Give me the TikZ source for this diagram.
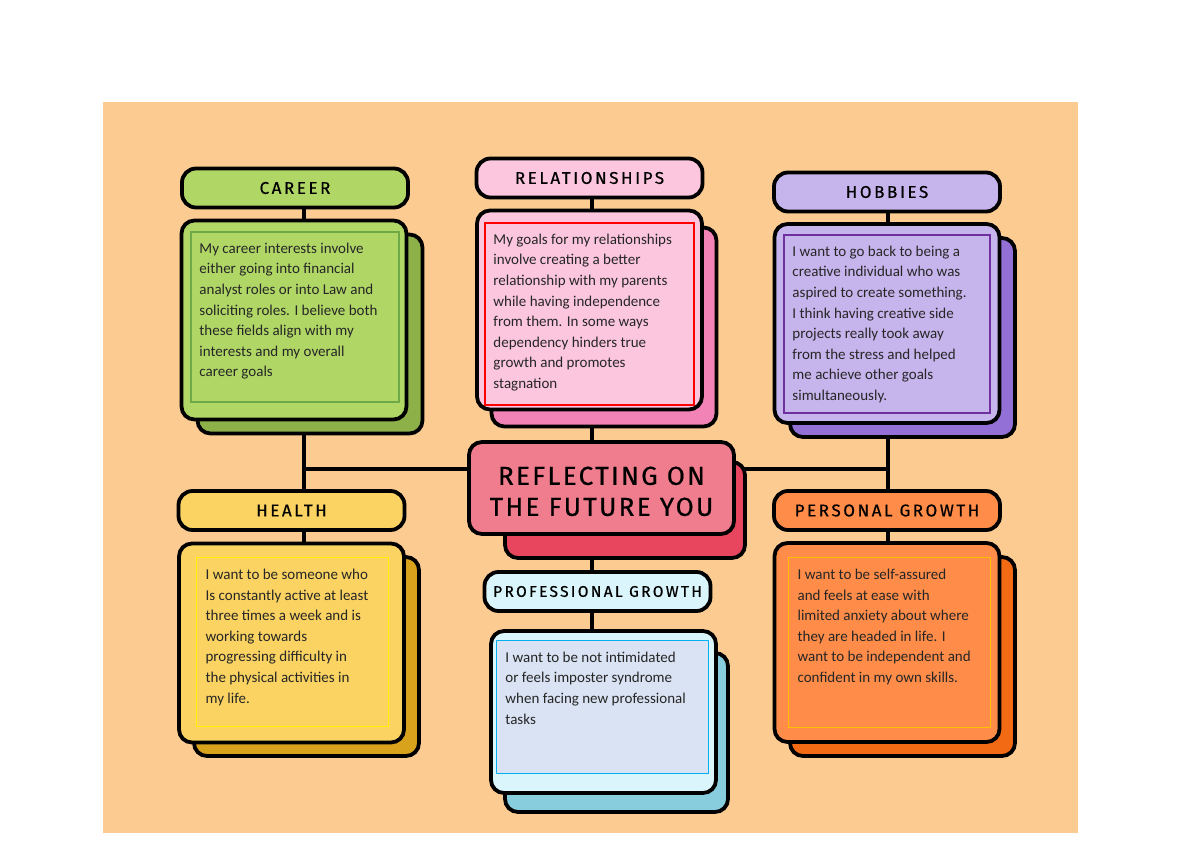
\documentclass[tikz,border=0pt]{standalone}
\usepackage{fontspec}
\setmainfont{Carlito}
\newfontfamily\headfont[LetterSpace=15,FakeBold=0.6]{Fira Sans}
\newfontfamily\titlefont[LetterSpace=9,FakeBold=0.6]{Fira Sans}
\usetikzlibrary{positioning,calc,backgrounds}
\definecolor{rfpeach}{HTML}{FBCB92}
\definecolor{carfront}{HTML}{B0D766}
\definecolor{carshade}{HTML}{8DB048}
\definecolor{carline}{HTML}{6FA847}
\definecolor{relfront}{HTML}{FBC6DE}
\definecolor{relshade}{HTML}{F283B7}
\definecolor{hobfront}{HTML}{C6B4EC}
\definecolor{hobshade}{HTML}{9370D6}
\definecolor{hobline}{HTML}{7030A0}
\definecolor{hltfront}{HTML}{FAD362}
\definecolor{hltshade}{HTML}{D9A21D}
\definecolor{profront}{HTML}{DAF5FC}
\definecolor{proinner}{HTML}{DAE3F3}
\definecolor{proline}{HTML}{00B0F0}
\definecolor{proshade}{HTML}{87CDDD}
\definecolor{pgrfront}{HTML}{FF8C48}
\definecolor{pgrshade}{HTML}{F26A14}
\definecolor{pgrline}{HTML}{FFC000}
\definecolor{cenfront}{HTML}{EF7D8D}
\definecolor{censhade}{HTML}{E7465E}

\begin{document}
\begin{tikzpicture}[x=1pt,y=-1pt,
  link/.style={line width=3.8pt,black},
  head/.style={draw=black,line width=3.8pt,rounded corners=14pt,minimum width=226pt,minimum height=39pt,inner sep=0pt,font=\headfont\fontsize{17}{17}\selectfont},
  card/.style={draw=black,line width=3.8pt,rounded corners=13pt,minimum width=225pt,minimum height=199pt,inner sep=0pt},
  inbox/.style={line width=2.5pt,inner sep=0pt},
  body/.style={below right=12pt and 9.5pt of #1,align=left,inner sep=0pt,font=\fontsize{15}{20.6}\selectfont,text=black!85}]
  \useasboundingbox (0,0) rectangle (1200,849);
  \begin{scope}[on background layer]
    \fill[rfpeach] (103,102) rectangle (1078,833);
  \end{scope}
  % top left: career
  \node[head,fill=carfront] (carH) at (295,188) {CAREER};
  \node[card,fill=carshade] (carS) at (310,334) {};
  \node[card,fill=carfront] (carB) at (294,320) {};
  \node[inbox,draw=carline,minimum width=208pt,minimum height=170pt] (carIn) at (295,317) {};
  \node[body=carIn.north west] (carT) {My career interests involve\\either going into financial\\analyst roles or into Law and\\soliciting roles. I believe both\\these fields align with my\\interests and my overall\\career goals};
  % top middle: relationships
  \node[head,fill=relfront] (relH) at (589.5,178) {RELATIONSHIPS};
  \node[card,fill=relshade] (relS) at (604,327) {};
  \node[card,fill=relfront] (relB) at (589.5,310) {};
  \node[inbox,draw=red,minimum width=209pt,minimum height=182pt] (relIn) at (589.5,314) {};
  \node[body=relIn.north west] (relT) {My goals for my relationships\\involve creating a better\\relationship with my parents\\while having independence\\from them. In some ways\\dependency hinders true\\growth and promotes\\stagnation};
  % top right: hobbies
  \node[head,fill=hobfront] (hobH) at (887,192) {HOBBIES};
  \node[card,fill=hobshade] (hobS) at (902.5,337.5) {};
  \node[card,fill=hobfront] (hobB) at (887,323.5) {};
  \node[inbox,draw=hobline,minimum width=206pt,minimum height=178pt] (hobIn) at (887,324) {};
  \node[body=hobIn.north west] (hobT) {I want to go back to being a\\creative individual who was\\aspired to create something.\\I think having creative side\\projects really took away\\from the stress and helped\\me achieve other goals\\simultaneously.};
  % bottom left: health
  \node[head,fill=hltfront] (hltH) at (291.5,510.5) {HEALTH};
  \node[card,fill=hltshade] (hltS) at (306.5,656.5) {};
  \node[card,fill=hltfront] (hltB) at (291.5,643) {};
  \node[inbox,draw=yellow,line width=1.2pt,minimum width=192pt,minimum height=169pt] (hltIn) at (292.5,642) {};
  \node[body=hltIn.north west] (hltT) {I want to be someone who\\Is constantly active at least\\three times a week and is\\working towards\\progressing difficulty in\\the physical activities in\\my life.};
  % bottom right: personal growth
  \node[head,fill=pgrfront] (pgrH) at (887,510.5) {PERSONAL GROWTH};
  \node[card,fill=pgrshade] (pgrS) at (902.5,656.5) {};
  \node[card,fill=pgrfront] (pgrB) at (887,642.5) {};
  \node[inbox,draw=pgrline,line width=1.2pt,minimum width=202pt,minimum height=170pt] (pgrIn) at (889.5,642.5) {};
  \node[body=pgrIn.north west] (pgrT) {I want to be self-assured\\and feels at ease with\\limited anxiety about where\\they are headed in life. I\\want to be independent and\\confident in my own skills.};
  % bottom middle: professional growth
  \node[head,fill=profront,font=\headfont\fontsize{15.5}{15.5}\selectfont] (proH) at (597.5,591.5) {PROFESSIONAL GROWTH};
  \node[card,fill=proshade,minimum width=223pt,minimum height=159pt] (proS) at (616.5,732.5) {};
  \node[card,fill=profront,minimum height=162pt] (proB) at (603.5,712) {};
  \node[inbox,draw=proline,fill=proinner,line width=1.5pt,minimum width=212pt,minimum height=133pt] (proIn) at (602.5,707) {};
  \node[body=proIn.north west] (proT) {I want to be not intimidated\\or feels imposter syndrome\\when facing new professional\\tasks};
  % centre
  \node[card,fill=censhade,minimum width=240pt,minimum height=96pt] (cenS) at (625,510) {};
  \node[card,fill=cenfront,minimum width=265pt,minimum height=92pt,align=center,
        font=\titlefont\fontsize{26}{31}\selectfont] (cen) at (601.5,488) {\rule{0pt}{25pt}REFLECTING ON\\THE FUTURE YOU};
  % spine behind the cards
  \coordinate (lx) at (304,469);
  \coordinate (rx) at (888,469);
  \coordinate (mx) at (592,469);
  \begin{scope}[on background layer]
    \draw[link] (lx) -- (rx);
    \draw[link] (carH.south -| lx) -- (hltB.north -| lx);
    \draw[link] (hobH.south -| rx) -- (pgrB.north -| rx);
    \draw[link] (relH.south -| mx) -- (proB.north -| mx);
  \end{scope}
\end{tikzpicture}
\end{document}
